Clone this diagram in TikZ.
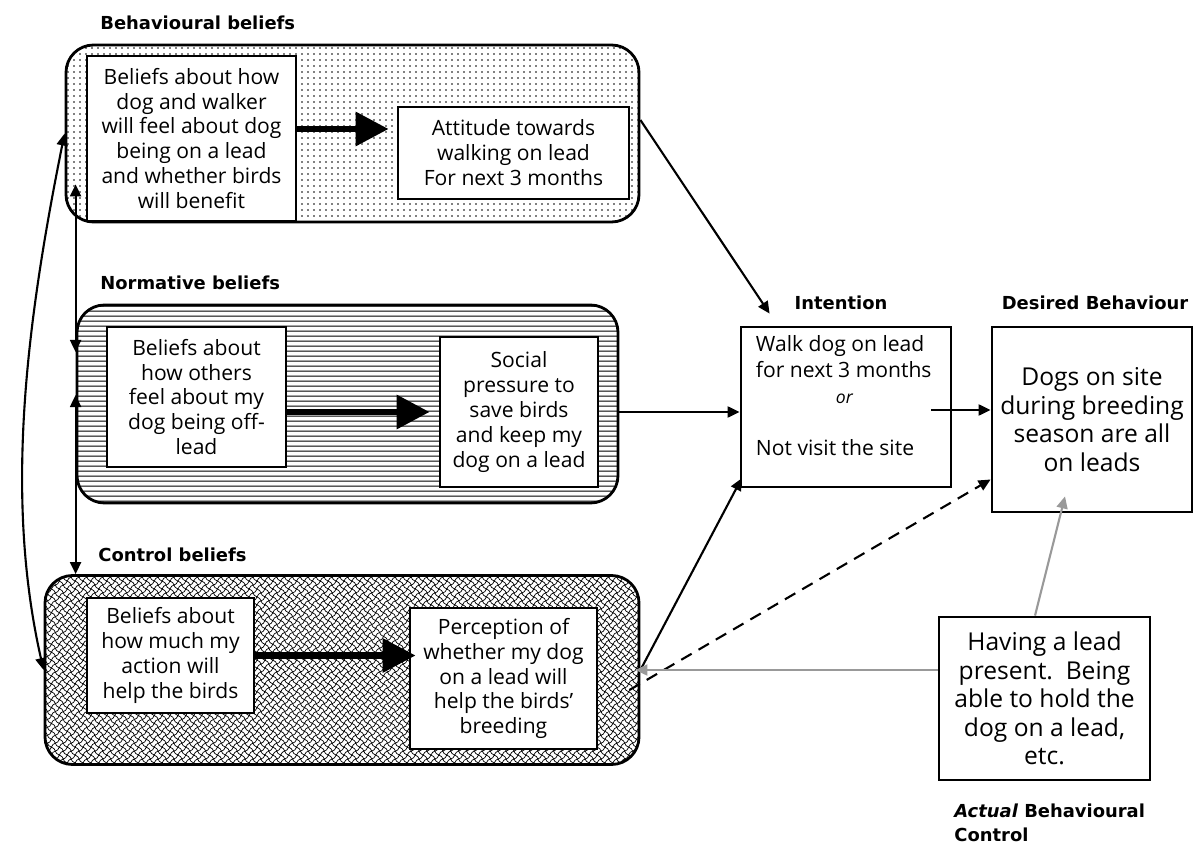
\documentclass[tikz,border=0pt]{standalone}
\usepackage{fontspec}
\setmainfont{Open Sans}
\newfontfamily\headfont{DejaVu Sans}
\usetikzlibrary{arrows.meta,patterns,calc}

\pgfdeclarepatternformonly{sparsedots}{\pgfpointorigin}{\pgfqpoint{3.4pt}{3.4pt}}{\pgfqpoint{3.4pt}{3.4pt}}{%
  \pgfpathcircle{\pgfqpoint{1.7pt}{1.7pt}}{0.5pt}%
  \pgfusepath{fill}}
\pgfdeclarepatternformonly{hlines}{\pgfpointorigin}{\pgfqpoint{100pt}{2.8pt}}{\pgfqpoint{100pt}{2.8pt}}{%
  \pgfsetlinewidth{0.7pt}%
  \pgfpathmoveto{\pgfqpoint{-2pt}{0.5pt}}%
  \pgfpathlineto{\pgfqpoint{102pt}{0.5pt}}%
  \pgfusepath{stroke}}
\pgfdeclarepatternformonly{scales}{\pgfqpoint{-0.5pt}{-0.5pt}}{\pgfqpoint{5pt}{5pt}}{\pgfqpoint{4.5pt}{4.5pt}}{%
  \pgfsetlinewidth{0.4pt}%
  \pgfpathmoveto{\pgfqpoint{0pt}{0pt}}%
  \pgfpathcurveto{\pgfqpoint{2.25pt}{0pt}}{\pgfqpoint{2.25pt}{4.5pt}}{\pgfqpoint{4.5pt}{4.5pt}}%
  \pgfpathmoveto{\pgfqpoint{0pt}{4.5pt}}%
  \pgfpathcurveto{\pgfqpoint{0pt}{2.25pt}}{\pgfqpoint{4.5pt}{2.25pt}}{\pgfqpoint{4.5pt}{0pt}}%
  \pgfusepath{stroke}}

\tikzset{
    group/.style={draw,line width=1.6pt,rounded corners=5.5mm,inner sep=0pt},
    box/.style={draw,line width=1.6pt,fill=white,align=center,inner sep=0pt,
        font=\fontsize{12}{14.2}\selectfont},
    bigbox/.style={box,font=\fontsize{14}{16.3}\selectfont},
    head/.style={font=\headfont\bfseries\fontsize{10.2}{13.6}\selectfont,inner sep=0pt},
    conn/.style={line width=1.2pt,->},
    bigarrow/.style={line width=1.3mm,-{Triangle[length=6.6mm,width=6.6mm]}}
}

\begin{document}
\begin{tikzpicture}[x=0.2mm,y=-0.2mm,>={Triangle[length=2.4mm,width=2.2mm]}]
\useasboundingbox (0,0) rectangle (1197,846);

% behavioural beliefs
\node[head,anchor=west] (behavlbl) at (100,23) {Behavioural beliefs};
\node[group,pattern=sparsedots,minimum width=114.6mm,minimum height=35.4mm] (behav) at (352.5,133.5) {};
\node[box,minimum width=41.8mm,minimum height=33mm] (b1) at (191.5,138.5)
    {Beliefs about how\\dog and walker\\will feel about dog\\being on a lead\\and whether birds\\will benefit};
\node[box,minimum width=46.2mm,minimum height=18.4mm] (att) at (513.5,153)
    {Attitude towards\\walking on lead\\For next 3 months};
\draw[bigarrow] ($(b1.east)+(0,-9.5)$) -- ($(b1.east -| att.west)+(-8,-9.5)$);

% normative beliefs
\node[head,anchor=west] (normlbl) at (100,283) {Normative beliefs};
\node[group,pattern=hlines,minimum width=108.2mm,minimum height=39.6mm] (norm) at (347.5,404) {};
\node[box,minimum width=35.8mm,minimum height=28mm] (n1) at (196.5,397)
    {Beliefs about\\how others\\feel about my\\dog being off-\\lead};
\node[box,minimum width=31.6mm,minimum height=30mm] (social) at (519,412)
    {Social\\pressure to\\save birds\\and keep my\\dog on a lead};
\draw[bigarrow] (n1.east |- social.west) -- ($(social.west)+(-9,0)$);

% control beliefs
\node[head,anchor=west] (ctrllbl) at (98,555) {Control beliefs};
\node[group,pattern=scales,minimum width=118.8mm,minimum height=37.8mm] (ctrl) at (342,670) {};
\node[box,minimum width=33.4mm,minimum height=23mm] (c1) at (170.5,655.5)
    {Beliefs about\\how much my\\action will\\help the birds};
\node[box,minimum width=37.4mm,minimum height=28.2mm] (percep) at (503.5,678.5)
    {Perception of\\whether my dog\\on a lead will\\help the birds'\\breeding};
\draw[bigarrow] (c1.east) -- ($(c1.east -| percep.west)+(7,0)$);

% intention and behaviour
\node[head] (intentlbl) at (841,303) {Intention};
\node[box,minimum width=42mm,minimum height=32mm] (intent) at (846,407) {};
\node[anchor=north west,align=left,inner sep=0pt,font=\fontsize{12}{14.7}\selectfont]
    (intenttxt) at ($(intent.north west)+(16,10)$)
    {Walk dog on lead\\for next 3 months\\\hspace*{16mm}{\itshape\fontsize{10}{14.7}\selectfont or}\\\mbox{}\\Not visit the site};
\node[head] (desiredlbl) at (1095,303) {Desired Behaviour};
\node[bigbox,minimum width=40mm,minimum height=37mm] (desired) at (1092,419.5)
    {Dogs on site\\during breeding\\season are all\\on leads};
\node[bigbox,minimum width=42.2mm,minimum height=32.6mm] (having) at (1044.5,698.5)
    {Having a lead\\present.\ \ Being\\able to hold the\\dog on a lead,\\etc.};
\node[head,anchor=north west,align=left] (actuallbl) at (954,804)
    {\textit{Actual} Behavioural\\Control};

% connectors
\draw[conn] ($(behav.east)+(0,-13.5)$) -- ($(intent.north west)+(30,-12)$);
\draw[conn] (social.west -| norm.east) -- (social.west -| intent.west);
\draw[conn] ($(intent.east)+(-21,3)$) -- ($(intent.east -| desired.west)+(0,3)$);
\draw[conn] (ctrl.east) -- ($(intent.south west)+(2,-10)$);
\draw[conn,dashed,dash pattern=on 2.4mm off 1.6mm] ($(ctrl.east)+(-11,20)$) -- ($(desired.west)+(0,60)$);
\draw[conn,gray!80] (having.west |- ctrl.east) -- ($(ctrl.east)+(-5,0)$);
\draw[conn,gray!80] ($(having.north)+(-9.5,0)$) -- ($(desired.south)+(-27,-17)$);

% links between the beliefs
\draw[conn,<->] (behav.west) .. controls (25,330) and (5,500) .. (ctrl.west);
\draw[conn,<->] ($(behav.south -| norm.west)+(0,-39)$) -- ($(norm.west)+(0,-52)$);
\draw[conn,<->] ($(norm.west)+(0,-9)$) -- (ctrl.north -| norm.west);
\end{tikzpicture}
\end{document}
